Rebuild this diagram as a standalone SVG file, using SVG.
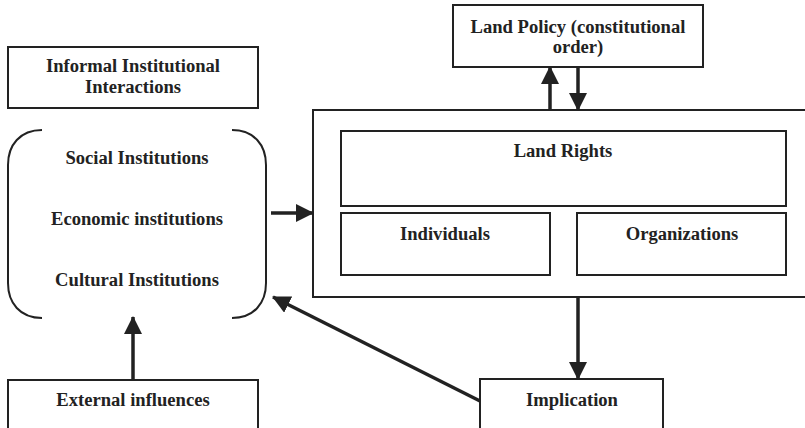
<svg xmlns="http://www.w3.org/2000/svg" width="805" height="428" viewBox="0 0 805 428">
  <style>
    .box { fill: #fff; stroke: #222; stroke-width: 2; }
    .lbl { font-family: "Liberation Serif", "Times New Roman", serif; font-weight: bold; font-size: 18.6px; fill: #222; text-anchor: middle; }
    .brk { fill: none; stroke: #222; stroke-width: 2; }
    .conn { fill: none; stroke: #222; stroke-width: 3.5; }
  </style>
  <defs>
    <marker id="arrow" markerUnits="userSpaceOnUse" markerWidth="18" markerHeight="18" viewBox="0 0 18 18" refX="17" refY="9" orient="auto">
      <path d="M0,0 L18,9 L0,18 Z" fill="#222"/>
    </marker>
  </defs>

  <g id="informal-interactions">
    <rect class="box" x="8" y="47" width="250" height="61"/>
    <text class="lbl" x="133" y="72">Informal Institutional</text>
    <text class="lbl" x="133" y="93">Interactions</text>
  </g>

  <g id="institutions">
    <path class="brk" d="M42,130 C20,130 8,145 8,165 L8,283 C8,303 20,318 42,318"/>
    <path class="brk" d="M232,130 C254,130 266,145 266,165 L266,283 C266,303 254,318 232,318"/>
    <text class="lbl" x="137" y="164">Social Institutions</text>
    <text class="lbl" x="137" y="225">Economic institutions</text>
    <text class="lbl" x="137" y="286">Cultural Institutions</text>
  </g>

  <g id="land-policy">
    <rect class="box" x="453" y="5" width="250" height="62"/>
    <text class="lbl" x="578" y="33">Land Policy (constitutional</text>
    <text class="lbl" x="578" y="53">order)</text>
  </g>

  <g id="land-system">
    <rect class="box" x="313" y="110" width="500" height="187"/>
  </g>

  <g id="land-rights">
    <rect class="box" x="341" y="131" width="445" height="75"/>
    <text class="lbl" x="563" y="157">Land Rights</text>
  </g>

  <g id="individuals">
    <rect class="box" x="341" y="213" width="209" height="62"/>
    <text class="lbl" x="445" y="240">Individuals</text>
  </g>

  <g id="organizations">
    <rect class="box" x="577" y="213" width="209" height="62"/>
    <text class="lbl" x="682" y="240">Organizations</text>
  </g>

  <g id="external-influences">
    <rect class="box" x="8" y="380" width="250" height="52"/>
    <text class="lbl" x="133" y="406">External influences</text>
  </g>

  <g id="implication">
    <rect class="box" x="480" y="379" width="183" height="53"/>
    <text class="lbl" x="572" y="406">Implication</text>
  </g>

  <g id="connectors">
    <line class="conn" x1="271" y1="213" x2="313" y2="213" marker-end="url(#arrow)"/>
    <line class="conn" x1="550" y1="110" x2="550" y2="67" marker-end="url(#arrow)"/>
    <line class="conn" x1="578" y1="67" x2="578" y2="110" marker-end="url(#arrow)"/>
    <line class="conn" x1="578" y1="297" x2="578" y2="379" marker-end="url(#arrow)"/>
    <line class="conn" x1="133" y1="380" x2="133" y2="317" marker-end="url(#arrow)"/>
    <line class="conn" x1="480" y1="401" x2="273" y2="297" marker-end="url(#arrow)"/>
  </g>
</svg>
